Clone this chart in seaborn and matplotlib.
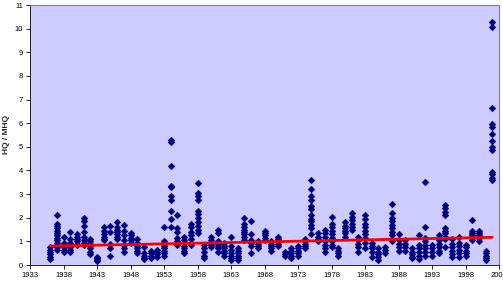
import pandas as pd
import matplotlib
matplotlib.use("Agg")
import matplotlib.pyplot as plt
import seaborn as sns

# Jahre und HQ/MHQ-Werte je Jahr (mehrere Pegel pro Jahr)
years = list(range(1936, 2003))
values = [
    [0.25, 0.35, 0.45, 0.55, 0.65, 0.75],
    [2.1, 1.75, 1.65, 1.55, 1.45, 1.35, 1.25, 1.15, 1.05, 0.95, 0.85, 0.75, 0.65],
    [1.2, 0.95, 0.85, 0.75, 0.65, 0.55],
    [1.4, 1.1, 0.95, 0.85, 0.75, 0.65, 0.55],
    [1.3, 1.2, 1.1, 1.0, 0.9, 0.85],
    [2.0, 1.85, 1.65, 1.4, 1.2, 1.05, 0.95, 0.85],
    [1.1, 1.0, 0.9, 0.8, 0.7, 0.55, 0.45],
    [0.35, 0.3, 0.25, 0.2, 0.15],
    [1.6, 1.45, 1.3, 1.2, 1.1, 1.05],
    [1.65, 1.4, 0.9, 0.7, 0.4],
    [1.8, 1.6, 1.5, 1.4, 1.3, 1.2, 1.1],
    [1.7, 1.45, 1.25, 1.05, 0.85, 0.7, 0.55],
    [1.35, 1.25, 1.15, 1.05, 0.95],
    [1.1, 0.95, 0.8, 0.7, 0.6, 0.5],
    [0.75, 0.5, 0.4, 0.3, 0.25],
    [0.6, 0.5, 0.4, 0.3],
    [0.65, 0.55, 0.45, 0.35],
    [1.6, 1.0, 0.9, 0.8, 0.7, 0.6, 0.5, 0.4],
    [5.3, 5.2, 4.2, 3.35, 3.3, 2.9, 2.75, 2.3, 1.95, 1.6],
    [2.1, 1.55, 1.4, 1.15, 1.0, 0.85],
    [1.2, 1.05, 0.95, 0.8, 0.7, 0.6, 0.5],
    [1.75, 1.6, 1.4, 1.25, 1.1, 0.95, 0.85],
    [3.45, 3.05, 2.9, 2.75, 2.3, 2.15, 2.0, 1.8, 1.65, 1.5, 1.35],
    [0.85, 0.7, 0.55, 0.4, 0.3],
    [1.2, 1.05, 0.95, 0.85, 0.75],
    [1.5, 1.35, 1.0, 0.9, 0.8, 0.7, 0.55],
    [0.95, 0.8, 0.7, 0.6, 0.5, 0.4],
    [1.2, 0.8, 0.65, 0.5, 0.4, 0.3, 0.2],
    [0.7, 0.6, 0.5, 0.4, 0.3, 0.2],
    [2.0, 1.75, 1.6, 1.5, 1.4, 1.3, 1.2, 1.05],
    [1.85, 1.3, 1.05, 0.95, 0.8, 0.5],
    [1.0, 0.9, 0.8, 0.7],
    [1.45, 1.35, 1.25, 1.15, 1.05],
    [1.0, 0.9, 0.8, 0.7, 0.6],
    [1.2, 1.1, 1.0, 0.9, 0.8],
    [0.55, 0.45, 0.4],
    [0.7, 0.6, 0.5, 0.4, 0.3],
    [0.8, 0.7, 0.6, 0.5, 0.4],
    [1.1, 1.0, 0.9, 0.8, 0.7],
    [3.6, 3.2, 2.9, 2.75, 2.5, 2.35, 2.1, 1.95, 1.85, 1.7, 1.55, 1.3],
    [1.35, 1.2, 1.1, 1.0],
    [1.5, 1.35, 1.2, 1.0, 0.85, 0.7, 0.55],
    [2.05, 1.75, 1.6, 1.45, 1.3, 1.15, 1.0, 0.85, 0.75],
    [0.7, 0.6, 0.5, 0.4],
    [1.8, 1.65, 1.55, 1.45, 1.35, 1.2],
    [2.2, 2.05, 1.9, 1.75, 1.6, 1.5],
    [1.2, 1.05, 0.9, 0.75, 0.55],
    [2.1, 1.95, 1.75, 1.6, 1.45, 1.3, 1.15, 0.95, 0.7],
    [0.95, 0.8, 0.7, 0.55, 0.35],
    [0.7, 0.55, 0.45, 0.35, 0.2],
    [0.75, 0.65, 0.5],
    [2.6, 2.2, 2.0, 1.85, 1.7, 1.55, 1.4, 1.25, 1.0],
    [1.3, 1.05, 0.9, 0.75, 0.6],
    [1.05, 0.9, 0.75, 0.6],
    [0.7, 0.55, 0.45, 0.35, 0.3],
    [1.25, 0.85, 0.7, 0.55, 0.4, 0.25],
    [3.5, 1.6, 1.15, 1.0, 0.85, 0.7, 0.55, 0.4],
    [0.85, 0.7, 0.55, 0.4],
    [1.25, 1.05, 0.9, 0.75, 0.6, 0.5],
    [2.55, 2.4, 2.25, 2.1, 1.55, 1.45, 1.35, 1.2, 1.1, 0.75],
    [1.1, 0.9, 0.75, 0.6, 0.45, 0.35],
    [1.2, 0.95, 0.8, 0.65, 0.5, 0.35],
    [0.85, 0.75, 0.6, 0.5, 0.4],
    [1.9, 1.45, 1.35, 1.25, 1.15, 1.05],
    [1.45, 1.35, 1.25, 1.15, 1.0],
    [0.6, 0.5, 0.4, 0.3, 0.2],
    [10.3, 10.05, 6.65, 5.95, 5.85, 5.55, 5.25, 5.0, 4.85, 3.95, 3.85, 3.7, 3.6],
]

trend_years = [1936, 2002]
trend_vals = [0.80, 1.17]

xticks = list(range(1933, 2004, 5))
yticks = list(range(0, 12))

rows = []
for yr, vals in zip(years, values):
    for v in vals:
        rows.append({"Jahr": yr, "HQ_MHQ": v})
df = pd.DataFrame(rows)
df_trend = pd.DataFrame({"Jahr": trend_years, "HQ_MHQ": trend_vals})

sns.set_style("white")
plt.rcParams["font.family"] = ["Liberation Sans", "DejaVu Sans"]

fig = plt.figure(figsize=(5.03, 2.85), dpi=100)
ax = fig.add_axes([30 / 503, 20 / 285, 469 / 503, 260 / 285])
ax.set_facecolor("#CCCCFF")

sns.scatterplot(x="Jahr", y="HQ_MHQ", data=df, marker="D", s=12,
                color="#000080", edgecolor="#000080", linewidth=0.3, ax=ax)
sns.lineplot(x="Jahr", y="HQ_MHQ", data=df_trend, color="#FF0000",
             linewidth=2.0, ax=ax)

ax.set_xlim(1933, 2003)
ax.set_ylim(0, 11)
ax.set_xticks(xticks)
ax.set_yticks(yticks)
ax.tick_params(axis="both", which="both", direction="out", length=3,
               width=0.6, labelsize=5.5, pad=2, colors="black")
ax.tick_params(bottom=True, left=True)

ax.set_xlabel("")
ax.set_ylabel("HQ / MHQ", fontsize=6, fontweight="bold")
ax.yaxis.set_label_coords(-10 / 469 * 2, 0.5)

for side in ["top", "right"]:
    ax.spines[side].set_color("#808080")
    ax.spines[side].set_linewidth(0.8)
for side in ["left", "bottom"]:
    ax.spines[side].set_color("black")
    ax.spines[side].set_linewidth(0.6)

fig.savefig("out.png", dpi=100)
